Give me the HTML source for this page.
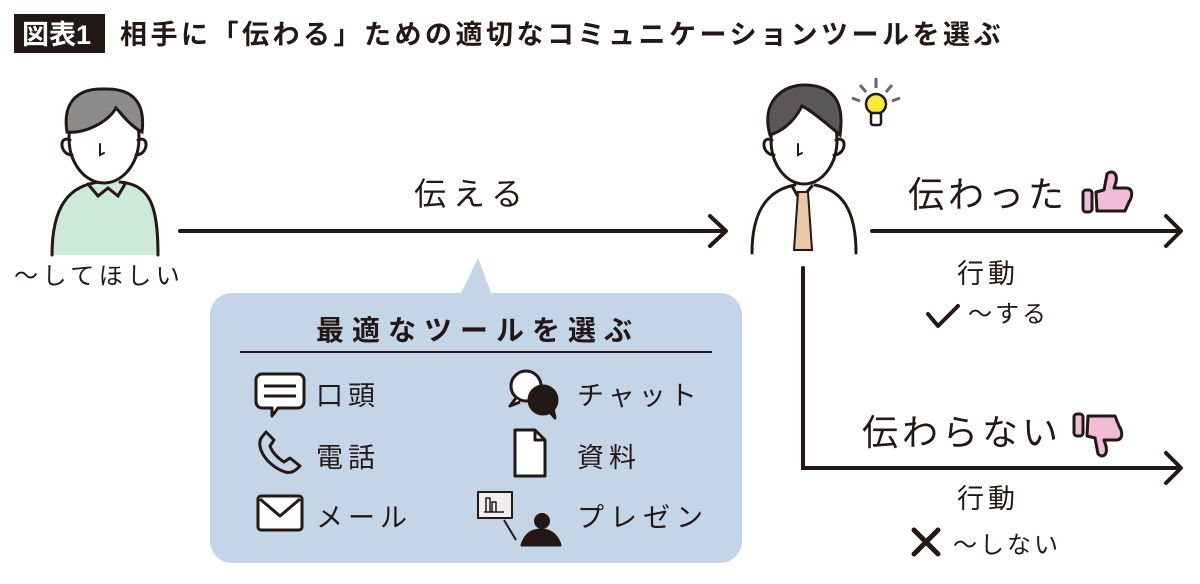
<!DOCTYPE html>
<html><head><meta charset="utf-8"><style>
html,body{margin:0;padding:0;background:#fff}
svg{display:block}
text{font-family:"Liberation Sans","Noto Sans CJK JP",sans-serif;fill:#231815}
</style></head><body>
<svg width="1200" height="584" viewBox="0 0 1200 584" xmlns="http://www.w3.org/2000/svg">
<rect x="14" y="14" width="91" height="39" fill="#231815"/>
<text x="22" y="44" font-size="27" font-weight="bold" style="fill:#fff">図表1</text>
<text x="120" y="44" font-size="27" font-weight="bold" letter-spacing="3.5">相手に「伝わる」ための適切なコミュニケーションツールを選ぶ</text>

<!-- left person -->
<g stroke="#231815" stroke-width="3" fill="none" stroke-linecap="round">
<path d="M52 255 C52 205 70 185 100 182 L120 182 C150 185 158 205 158 255 Z" fill="#cde9da" stroke="none"/>
<path d="M52 255 C52 205 70 185 100 182 M120 182 C150 185 158 205 158 255"/>
<path d="M88 184 L98 196 L108 188 L118 196 L125 184"/>
<ellipse cx="104" cy="138" rx="35" ry="45" fill="#fff"/>
<path d="M67 132 C62 100 80 88 104 89 C130 88 146 100 142 132 C130 126 120 112 116 108 C108 122 85 134 67 132Z" fill="#8c8c8c"/>
<path d="M70 140 C58 135 60 155 72 155 M138 140 C150 135 148 155 136 155"/>
<path d="M100 144 L100 155 L104 153" stroke-width="2"/>
</g>
<text x="14" y="284" font-size="24" letter-spacing="4.5">～してほしい</text>

<!-- main arrow -->
<line x1="180" y1="231" x2="725" y2="231" stroke="#231815" stroke-width="4" stroke-linecap="round"/>
<path d="M710 216 L726 231 L710 246" stroke="#231815" stroke-width="4" fill="none" stroke-linecap="round" stroke-linejoin="round"/>
<text x="414" y="205" font-size="32" letter-spacing="7">伝える</text>

<!-- blue box -->
<path d="M460 295 L478 258 L492 295 Z" fill="#c4d5e7"/>
<rect x="210" y="293" width="532" height="270" rx="22" fill="#c4d5e7"/>
<text x="316" y="340" font-size="28" font-weight="bold" letter-spacing="8">最適なツールを選ぶ</text>
<line x1="240" y1="352" x2="712" y2="352" stroke="#231815" stroke-width="2"/>
<g stroke="#231815" stroke-width="3" fill="#fff" stroke-linejoin="round">
<path d="M262 374 h36 a6 6 0 0 1 6 6 v22 a6 6 0 0 1 -6 6 h-20 l-6 8 v-8 h-10 a6 6 0 0 1 -6 -6 v-22 a6 6 0 0 1 6 -6z"/>
<line x1="264" y1="386" x2="296" y2="386"/><line x1="264" y1="396" x2="296" y2="396"/>
<path d="M262 437 C255 445 265 465 285 472 C292 474 296 470 300 466 L290 458 L284 462 C278 458 272 452 270 446 L274 440 L266 432 Z" fill="none"/>
<rect x="258" y="496" width="44" height="34" rx="3"/>
<path d="M260 499 L280 516 L300 499" fill="none"/>
<circle cx="526" cy="386" r="15"/>
<path d="M516 398 l-6 8 l10 -4" />
<circle cx="543" cy="400" r="14" fill="#231815"/>
<path d="M548 410 l7 8 l-2 -10" fill="#231815"/>
<path d="M515 430 h20 l10 10 v36 h-30 z"/>
<path d="M535 430 v10 h10" fill="none"/>
<rect x="478" y="492" width="34" height="26" stroke-width="2" fill="#eee"/>
<path d="M486 512 v-14 h4 v14 M492 512 v-10 h4 v10 M484 512 h20" stroke-width="1.5" fill="none"/>
<line x1="504" y1="520" x2="516" y2="540" stroke-width="2"/>
<circle cx="542" cy="521" r="8" fill="#231815" stroke="none"/>
<path d="M522 545 C526 532 534 530 542 530 C552 530 558 538 560 545 Z" fill="#231815"/>
</g>
<text x="316" y="405" font-size="27" letter-spacing="5">口頭</text>
<text x="316" y="467" font-size="27" letter-spacing="5">電話</text>
<text x="316" y="527" font-size="27" letter-spacing="5">メール</text>
<text x="577" y="405" font-size="27" letter-spacing="4">チャット</text>
<text x="577" y="467" font-size="27" letter-spacing="5">資料</text>
<text x="577" y="527" font-size="27" letter-spacing="6">プレゼン</text>

<!-- right person -->
<g stroke="#231815" stroke-width="3" fill="none" stroke-linecap="round">
<path d="M752 253 C752 210 768 190 795 185 L815 185 C842 190 856 210 856 253 Z" fill="#fff" stroke="none"/>
<path d="M752 253 C752 210 768 190 795 185 M815 185 C842 190 856 210 856 253"/>
<path d="M792 186 L800 200 L812 186"/>
<path d="M798 192 L794 250 L812 250 L808 192 Z" fill="#e9c8a8" stroke-width="2"/>
<ellipse cx="804" cy="140" rx="33" ry="44" fill="#fff"/>
<path d="M770 135 C760 100 785 84 806 85 C832 86 845 100 840 135 C825 122 810 110 802 106 C795 120 785 130 770 135Z" fill="#595757"/>
<path d="M772 140 C760 135 762 155 774 155 M836 140 C848 135 846 155 834 155"/>
<path d="M798 144 L798 155 L802 153" stroke-width="2"/>
</g>
<g>
<circle cx="876" cy="104" r="10" fill="#f9e93a" stroke="#231815" stroke-width="2.5"/>
<rect x="871" y="113" width="10" height="12" rx="2" fill="#fff" stroke="#231815" stroke-width="2.5"/>
<path d="M876 78 v10 M860 85 l6 7 M892 85 l-6 7 M852 98 l8 3 M900 98 l-8 3" stroke="#666" stroke-width="3"/>
</g>

<!-- branches -->
<line x1="872" y1="231" x2="1180" y2="231" stroke="#231815" stroke-width="4" stroke-linecap="round"/>
<path d="M1166 216 L1181 231 L1166 246" stroke="#231815" stroke-width="4" fill="none" stroke-linecap="round" stroke-linejoin="round"/>
<path d="M803 268 L803 468 L1180 468" stroke="#231815" stroke-width="4" fill="none" stroke-linecap="round"/>
<path d="M1166 453 L1181 468 L1166 483" stroke="#231815" stroke-width="4" fill="none" stroke-linecap="round" stroke-linejoin="round"/>

<text x="908" y="207" font-size="36" letter-spacing="4">伝わった</text>
<g stroke="#231815" stroke-width="3" fill="#f0bcd6" stroke-linejoin="round">
<rect x="1083" y="190" width="9" height="22" rx="3"/>
<path d="M1096 192 L1104 190 L1107 174 C1111 170 1118 172 1116 182 L1114 188 L1126 188 C1133 188 1133 196 1129 202 L1125 211 L1097 211 Z"/>
</g>
<text x="957" y="283" font-size="27" letter-spacing="4">行動</text>
<path d="M928 314 L938 326 L958 306" stroke="#231815" stroke-width="4" fill="none" stroke-linecap="round" stroke-linejoin="round"/>
<text x="968" y="322" font-size="24" letter-spacing="3">～する</text>

<text x="862" y="445" font-size="36" letter-spacing="4">伝わらない</text>
<g stroke="#231815" stroke-width="3" fill="#f0bcd6" stroke-linejoin="round">
<rect x="1074" y="414" width="9" height="22" rx="3"/>
<path d="M1087 436 L1095 438 L1098 454 C1102 458 1108 456 1106 446 L1104 440 L1116 440 C1123 440 1123 432 1119 426 L1115 416 L1088 416 Z"/>
</g>
<text x="957" y="508" font-size="27" letter-spacing="4">行動</text>
<path d="M914 530 L938 554 M938 530 L914 554" stroke="#231815" stroke-width="5" stroke-linecap="round"/>
<text x="953" y="553" font-size="24" letter-spacing="3">～しない</text>
</svg>
</body></html>
